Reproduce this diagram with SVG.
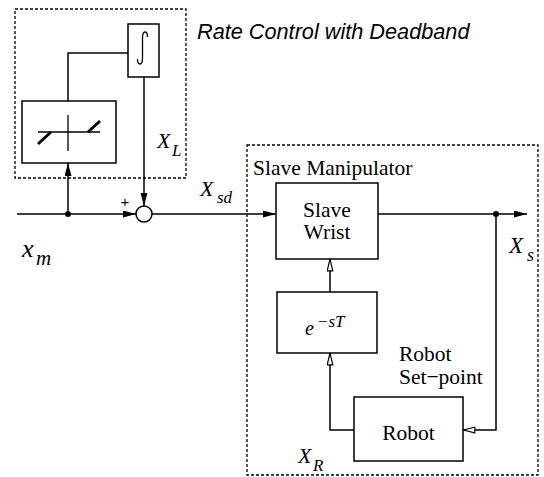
<svg xmlns="http://www.w3.org/2000/svg" width="544" height="477" viewBox="0 0 544 477">
<style>
.blk{fill:none;stroke:#000;stroke-width:1.5}
.dash{fill:none;stroke:#000;stroke-width:1.3;stroke-dasharray:3 2}
.ln{fill:none;stroke:#000;stroke-width:1.5}
.tm{font-family:"Liberation Serif",serif;font-size:21.5px;fill:#000}
.it{font-family:"Liberation Serif",serif;font-style:italic;fill:#000}
.hv{font-family:"Liberation Sans",sans-serif;font-style:italic;font-size:21.7px;fill:#000}
</style>
<defs>
<marker id="af" markerUnits="userSpaceOnUse" markerWidth="14" markerHeight="8" refX="13" refY="3.5" orient="auto">
<path d="M0,0 L13,3.5 L0,7 z" fill="#000"/>
</marker>
<marker id="ah" markerUnits="userSpaceOnUse" markerWidth="14" markerHeight="8" refX="12.5" refY="3.5" orient="auto">
<path d="M0.7,0.7 L12.3,3.5 L0.7,6.3 z" fill="#fff" stroke="#000" stroke-width="1.2"/>
</marker>
</defs>

<g id="rate-control">
<rect class="dash" x="15" y="9" width="171" height="169"/>
<text class="hv" x="197" y="39">Rate Control with Deadband</text>
</g>
<g id="slave-manipulator">
<rect class="dash" x="247" y="145" width="291" height="330"/>
<text class="tm" x="253" y="175">Slave Manipulator</text>
</g>

<g id="integrator">
<rect class="blk" x="128" y="24" width="31" height="53"/>
<path d="M137.5,59 Q137.5,64 140,64 Q142.5,64 142.5,58 L142.5,38 Q142.5,32 145,32 Q147.5,32 147.5,37" fill="none" stroke="#000" stroke-width="1.3"/>
</g>
<g id="deadband">
<rect class="blk" x="22" y="101" width="94" height="62"/>
<line x1="68" y1="115" x2="68" y2="151" stroke="#000" stroke-width="1.3"/>
<line x1="38" y1="132" x2="100" y2="132" stroke="#000" stroke-width="1.3"/>
<line x1="38" y1="144" x2="51" y2="132" stroke="#000" stroke-width="3"/>
<line x1="88" y1="132" x2="100" y2="121" stroke="#000" stroke-width="3"/>
</g>
<g id="sum">
<circle cx="144" cy="214" r="8" fill="#fff" stroke="#000" stroke-width="1.5"/>
<text x="125" y="207" text-anchor="middle" font-family="Liberation Sans,sans-serif" font-size="15">+</text>
</g>
<g id="slave-wrist">
<rect class="blk" x="276" y="183" width="102" height="76"/>
<text class="tm" x="327" y="217" text-anchor="middle">Slave</text>
<text class="tm" x="327" y="239" text-anchor="middle">Wrist</text>
</g>
<g id="delay">
<rect class="blk" x="277" y="292" width="100" height="61"/>
<text class="it" x="305" y="335" font-size="20">e</text>
<text class="it" x="317" y="327" font-size="17">−sT</text>
</g>
<g id="robot">
<rect class="blk" x="354" y="397" width="109" height="64"/>
<text class="tm" x="408.5" y="440" text-anchor="middle">Robot</text>
</g>

<g id="connectors">
<path class="ln" d="M17,214 H136" marker-end="url(#af)"/>
<path class="ln" d="M68,214 V163" marker-end="url(#af)"/>
<path class="ln" d="M68,101 V53 H128"/>
<path class="ln" d="M144,77 V206" marker-end="url(#af)"/>
<path class="ln" d="M152,214 H276" marker-end="url(#af)"/>
<path class="ln" d="M378,214 H527" marker-end="url(#af)"/>
<path class="ln" d="M496,214 V430 H463" marker-end="url(#ah)"/>
<path class="ln" d="M354,430 H330 V353" marker-end="url(#ah)"/>
<path class="ln" d="M330,292 V259" marker-end="url(#ah)"/>
<circle cx="68" cy="214" r="3" fill="#000"/>
<circle cx="496" cy="214" r="3" fill="#000"/>
</g>

<g id="labels">
<text class="it" x="157" y="148" font-size="22">X</text><text class="it" x="172" y="156" font-size="17">L</text>
<text class="it" x="200" y="196" font-size="22">X</text><text class="it" x="217" y="203" font-size="17">sd</text>
<text class="it" x="22" y="257" font-size="26">x</text><text class="it" x="36" y="265" font-size="21">m</text>
<text class="it" x="509" y="253" font-size="23">X</text><text class="it" x="527" y="261" font-size="18">s</text>
<text class="it" x="298" y="463" font-size="22">X</text><text class="it" x="313" y="471" font-size="17">R</text>
<text class="tm" x="399" y="361" font-size="20.5">Robot</text>
<text class="tm" x="399" y="384" font-size="20.5">Set−point</text>
</g>
</svg>
